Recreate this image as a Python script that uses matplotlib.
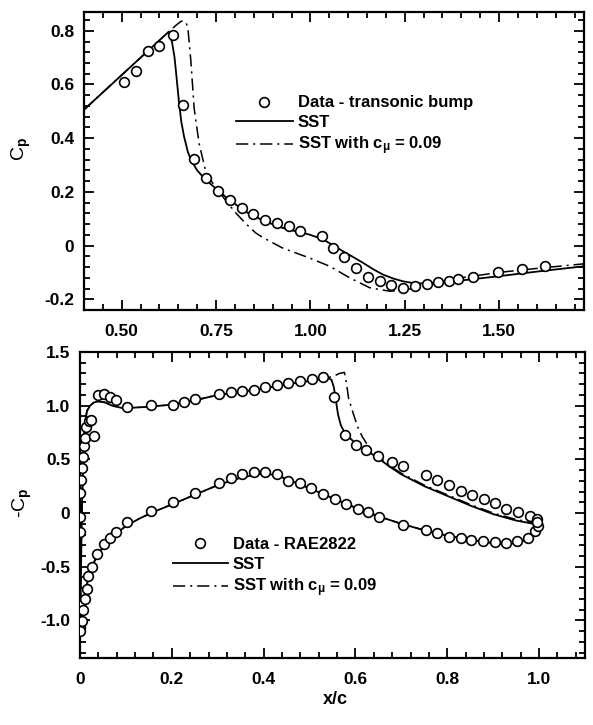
import matplotlib
matplotlib.use("Agg")
import matplotlib.pyplot as plt
from matplotlib.ticker import MultipleLocator, FixedLocator

plt.rcParams['font.family'] = ['Liberation Sans', 'DejaVu Sans']
plt.rcParams['font.weight'] = 'bold'
plt.rcParams['mathtext.fontset'] = 'custom'
plt.rcParams['mathtext.rm'] = 'Liberation Sans:bold'
plt.rcParams['mathtext.it'] = 'Liberation Sans:bold'
plt.rcParams['mathtext.bf'] = 'Liberation Sans:bold'

# ---------------- Top panel: transonic bump ----------------
bump_data_x = [0.507, 0.539, 0.569, 0.600, 0.636, 0.663, 0.692, 0.723, 0.756, 0.787,
               0.818, 0.848, 0.880, 0.911, 0.942, 0.973, 1.030, 1.059, 1.090, 1.122,
               1.152, 1.184, 1.214, 1.245, 1.277, 1.308, 1.339, 1.366, 1.391, 1.431,
               1.497, 1.561, 1.622]
bump_data_cp = [0.611, 0.652, 0.723, 0.742, 0.783, 0.522, 0.324, 0.250, 0.205, 0.169,
                0.140, 0.118, 0.097, 0.084, 0.072, 0.056, 0.035, -0.009, -0.042, -0.083,
                -0.118, -0.133, -0.148, -0.157, -0.151, -0.145, -0.137, -0.131, -0.125, -0.116,
                -0.099, -0.087, -0.077]

bump_sst_x = [0.40, 0.625, 0.633, 0.640, 0.645, 0.652, 0.658, 0.665, 0.675, 0.683,
              0.700, 0.714, 0.735, 0.758, 0.780, 0.802, 0.838, 0.880, 0.926, 0.970,
              0.997, 1.020, 1.042, 1.065, 1.086, 1.110, 1.139, 1.165, 1.192, 1.220,
              1.245, 1.270, 1.290, 1.334, 1.400, 1.500, 1.600, 1.725]
bump_sst_cp = [0.506, 0.797, 0.760, 0.700, 0.630, 0.530, 0.460, 0.407, 0.350, 0.320,
               0.280, 0.258, 0.230, 0.202, 0.176, 0.153, 0.118, 0.090, 0.066, 0.050,
               0.041, 0.030, 0.016, -0.003, -0.021, -0.040, -0.064, -0.087, -0.108, -0.123,
               -0.133, -0.139, -0.141, -0.139, -0.130, -0.114, -0.097, -0.077]

bump_c09_x = [0.40, 0.625, 0.645, 0.658, 0.668, 0.672, 0.676, 0.683, 0.692, 0.705,
              0.722, 0.740, 0.758, 0.780, 0.802, 0.830, 0.855, 0.874, 0.926, 0.997,
              1.051, 1.104, 1.157, 1.210, 1.250, 1.300, 1.350, 1.400, 1.500, 1.600, 1.725]
bump_c09_cp = [0.506, 0.797, 0.822, 0.836, 0.835, 0.825, 0.800, 0.690, 0.510, 0.380,
               0.280, 0.235, 0.200, 0.160, 0.122, 0.080, 0.047, 0.030, -0.009, -0.046,
               -0.077, -0.120, -0.157, -0.170, -0.166, -0.150, -0.135, -0.120, -0.100, -0.085, -0.068]

top_xticks = [0.50, 0.75, 1.00, 1.25, 1.50]
top_xticklabels = ["0.50", "0.75", "1.00", "1.25", "1.50"]
top_yticks = [-0.2, 0.0, 0.2, 0.4, 0.6, 0.8]
top_yticklabels = ["-0.2", "0", "0.2", "0.4", "0.6", "0.8"]

# ---------------- Bottom panel: RAE2822 ----------------
rae_up_x = [0.000, 0.000, 0.001, 0.002, 0.004, 0.006, 0.008, 0.010, 0.014, 0.019,
            0.024, 0.031, 0.040, 0.053, 0.066, 0.079, 0.102, 0.155, 0.202, 0.226,
            0.251, 0.302, 0.328, 0.353, 0.379, 0.404, 0.430, 0.454, 0.479, 0.505,
            0.530, 0.554, 0.578, 0.601, 0.623, 0.650, 0.679, 0.703, 0.753, 0.778,
            0.803, 0.829, 0.854, 0.879, 0.903, 0.929, 0.954, 0.980, 0.996]
rae_up_cp = [-0.18, -0.04, 0.19, 0.31, 0.42, 0.52, 0.62, 0.70, 0.80, 0.86,
             0.87, 0.72, 1.10, 1.11, 1.08, 1.05, 0.99, 1.01, 1.01, 1.03,
             1.06, 1.11, 1.13, 1.14, 1.15, 1.17, 1.19, 1.21, 1.23, 1.25,
             1.27, 1.08, 0.73, 0.63, 0.59, 0.53, 0.48, 0.44, 0.35, 0.31,
             0.26, 0.21, 0.17, 0.13, 0.09, 0.04, 0.01, -0.03, -0.06]

rae_lo_x = [0.000, 0.000, 0.000, 0.004, 0.007, 0.011, 0.015, 0.018, 0.026, 0.038,
            0.052, 0.066, 0.079, 0.102, 0.155, 0.203, 0.251, 0.302, 0.328, 0.353,
            0.379, 0.404, 0.430, 0.454, 0.479, 0.504, 0.530, 0.555, 0.579, 0.605,
            0.627, 0.652, 0.703, 0.753, 0.778, 0.803, 0.829, 0.852, 0.878, 0.903,
            0.927, 0.951, 0.976, 0.991, 0.998, 0.995]
rae_lo_cp = [-0.86, -1.06, -1.10, -1.01, -0.90, -0.80, -0.71, -0.59, -0.50, -0.38,
             -0.29, -0.23, -0.18, -0.08, 0.02, 0.10, 0.19, 0.28, 0.33, 0.36,
             0.38, 0.38, 0.36, 0.30, 0.28, 0.23, 0.18, 0.13, 0.08, 0.04,
             0.01, -0.04, -0.11, -0.16, -0.19, -0.22, -0.235, -0.25, -0.26, -0.27,
             -0.28, -0.26, -0.23, -0.17, -0.12, -0.08]

sst_up_x = [0.000, 0.002, 0.004, 0.007, 0.010, 0.015, 0.022, 0.030, 0.040, 0.055,
            0.070, 0.090, 0.110, 0.150, 0.200, 0.250, 0.300, 0.350, 0.400, 0.450,
            0.500, 0.540, 0.548, 0.553, 0.557, 0.562, 0.568, 0.575, 0.585, 0.600,
            0.625, 0.650, 0.675, 0.700, 0.750, 0.800, 0.850, 0.900, 0.950, 1.000]
sst_up_cp = [-1.15, -0.60, 0.00, 0.50, 0.80, 0.95, 1.00, 1.03, 1.04, 1.03,
             1.00, 0.98, 0.98, 0.99, 1.01, 1.05, 1.10, 1.13, 1.16, 1.20,
             1.23, 1.26, 1.24, 1.17, 1.06, 0.92, 0.82, 0.76, 0.71, 0.65,
             0.58, 0.51, 0.43, 0.36, 0.25, 0.16, 0.07, -0.01, -0.07, -0.11]
sst_lo_x = [0.000, 0.003, 0.007, 0.012, 0.020, 0.030, 0.045, 0.060, 0.080, 0.100,
            0.130, 0.160, 0.200, 0.250, 0.300, 0.350, 0.400, 0.430, 0.460, 0.500,
            0.550, 0.600, 0.650, 0.700, 0.750, 0.800, 0.850, 0.900, 0.930, 0.960,
            0.980, 0.990, 1.000]
sst_lo_cp = [-1.15, -1.00, -0.85, -0.72, -0.58, -0.46, -0.35, -0.27, -0.19, -0.12,
             -0.05, 0.01, 0.08, 0.17, 0.26, 0.33, 0.37, 0.35, 0.30, 0.23,
             0.14, 0.05, -0.03, -0.10, -0.16, -0.21, -0.25, -0.28, -0.29, -0.27,
             -0.23, -0.19, -0.12]

c09_up_x = [0.000, 0.002, 0.004, 0.007, 0.010, 0.015, 0.022, 0.030, 0.040, 0.055,
            0.070, 0.090, 0.110, 0.150, 0.200, 0.250, 0.300, 0.350, 0.400, 0.450,
            0.500, 0.540, 0.555, 0.565, 0.576, 0.580, 0.585, 0.595, 0.605, 0.615,
            0.630, 0.650, 0.675, 0.700, 0.750, 0.800, 0.850, 0.900, 0.950, 1.000]
c09_up_cp = [-1.15, -0.60, 0.00, 0.50, 0.80, 0.95, 1.00, 1.03, 1.04, 1.03,
             1.00, 0.98, 0.98, 0.99, 1.01, 1.05, 1.10, 1.13, 1.16, 1.20,
             1.23, 1.26, 1.28, 1.30, 1.31, 1.22, 1.07, 0.93, 0.80, 0.71,
             0.61, 0.53, 0.44, 0.37, 0.26, 0.17, 0.08, 0.00, -0.06, -0.10]
c09_lo_x = [0.000, 0.003, 0.007, 0.012, 0.020, 0.030, 0.045, 0.060, 0.080, 0.100,
            0.130, 0.160, 0.200, 0.250, 0.300, 0.350, 0.400, 0.430, 0.460, 0.500,
            0.550, 0.600, 0.650, 0.700, 0.750, 0.800, 0.850, 0.900, 0.930, 0.960,
            0.980, 0.990, 1.000]
c09_lo_cp = [-1.15, -1.00, -0.85, -0.72, -0.58, -0.46, -0.35, -0.27, -0.19, -0.12,
             -0.05, 0.01, 0.08, 0.17, 0.26, 0.33, 0.37, 0.35, 0.30, 0.23,
             0.14, 0.05, -0.03, -0.10, -0.16, -0.21, -0.25, -0.28, -0.29, -0.27,
             -0.23, -0.19, -0.11]

bot_xticks = [0.0, 0.2, 0.4, 0.6, 0.8, 1.0]
bot_xticklabels = ["0", "0.2", "0.4", "0.6", "0.8", "1.0"]
bot_yticks = [-1.0, -0.5, 0.0, 0.5, 1.0, 1.5]
bot_yticklabels = ["-1.0", "-0.5", "0", "0.5", "1.0", "1.5"]

# ---------------- Figure ----------------
W, H = 593, 725
fig = plt.figure(figsize=(W / 100, H / 100), dpi=100)

ax1 = fig.add_axes([84 / W, 1 - 310 / H, (584 - 84) / W, (310 - 12) / H])
ax2 = fig.add_axes([80 / W, 1 - 658 / H, (585 - 80) / W, (658 - 352) / H])

DASH = (8, 3.2, 1.4, 3.2)
mk = dict(marker='o', ms=7.0, mfc='white', mec='black', mew=1.2, ls='none')
TICKFS = 12.5

def style(ax):
    for s in ax.spines.values():
        s.set_linewidth(1.6)
    ax.tick_params(which='both', direction='in', top=True, right=True,
                   width=1.3, labelsize=TICKFS)
    ax.tick_params(axis='y', which='both', pad=7)
    ax.tick_params(axis='x', which='both', pad=10)
    ax.tick_params(which='major', length=7)
    ax.tick_params(which='minor', length=4)

# top
ax1.plot(bump_sst_x, bump_sst_cp, color='black', lw=1.3, label='SST', zorder=2)
ax1.plot(bump_c09_x, bump_c09_cp, color='black', lw=1.1, dashes=DASH,
         label=r'SST with c$_\mu$ = 0.09', zorder=2)
ax1.plot(bump_data_x, bump_data_cp, label='Data - transonic bump', zorder=3, **mk)
ax1.set_xlim(0.40, 1.725)
ax1.set_ylim(-0.24, 0.87)
ax1.xaxis.set_major_locator(FixedLocator(top_xticks))
ax1.set_xticklabels(top_xticklabels)
ax1.xaxis.set_minor_locator(MultipleLocator(0.05))
ax1.yaxis.set_major_locator(FixedLocator(top_yticks))
ax1.set_yticklabels(top_yticklabels)
ax1.yaxis.set_minor_locator(MultipleLocator(0.04))
style(ax1)
ax1.set_ylabel(r'C$_p$', fontsize=14)
ax1.yaxis.set_label_coords(-0.102, 0.54)
h, l = ax1.get_legend_handles_labels()
order = [2, 0, 1]
ax1.legend([h[i] for i in order], [l[i] for i in order], loc='upper left',
           bbox_to_anchor=(0.304, 0.72), frameon=False, fontsize=12,
           handlelength=3.4, handletextpad=0.3, labelspacing=0.28,
           borderpad=0, borderaxespad=0)

# bottom
ax2.plot(sst_up_x, sst_up_cp, color='black', lw=1.3, label='SST', zorder=2)
ax2.plot(sst_lo_x, sst_lo_cp, color='black', lw=1.3, zorder=2)
ax2.plot(c09_up_x, c09_up_cp, color='black', lw=1.1, dashes=DASH,
         label=r'SST with c$_\mu$ = 0.09', zorder=2)
ax2.plot(c09_lo_x, c09_lo_cp, color='black', lw=1.1, dashes=DASH, zorder=2)
ax2.plot(rae_up_x, rae_up_cp, label='Data - RAE2822', zorder=3, **mk)
ax2.plot(rae_lo_x, rae_lo_cp, zorder=3, **mk)
ax2.set_xlim(0.0, 1.10)
ax2.set_ylim(-1.35, 1.5)
ax2.xaxis.set_major_locator(FixedLocator(bot_xticks))
ax2.set_xticklabels(bot_xticklabels)
ax2.xaxis.set_minor_locator(MultipleLocator(0.04))
ax2.yaxis.set_major_locator(FixedLocator(bot_yticks))
ax2.set_yticklabels(bot_yticklabels)
ax2.yaxis.set_minor_locator(MultipleLocator(0.1))
style(ax2)
ax2.set_ylabel(r'-C$_p$', fontsize=14)
ax2.yaxis.set_label_coords(-0.092, 0.507)
h, l = ax2.get_legend_handles_labels()
order = [2, 0, 1]
ax2.legend([h[i] for i in order], [l[i] for i in order], loc='upper left',
           bbox_to_anchor=(0.184, 0.395), frameon=False, fontsize=12,
           handlelength=3.3, handletextpad=0.3, labelspacing=0.28,
           borderpad=0, borderaxespad=0)

fig.text(335 / W, 1 - 700 / H, 'x/c', ha='center', va='center', fontsize=13)

fig.savefig('out.png', dpi=100)
